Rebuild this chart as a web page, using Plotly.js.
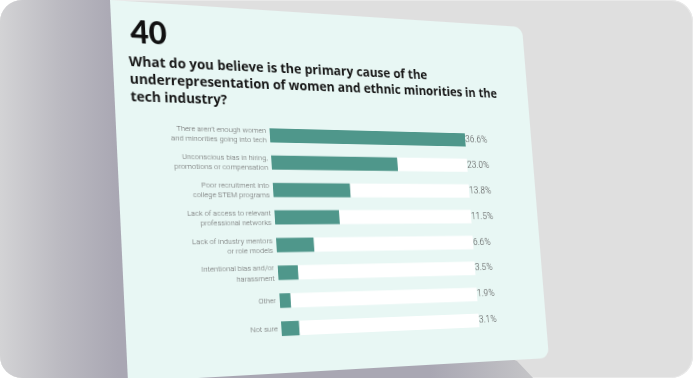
<!DOCTYPE html>
<html>
<head>
<meta charset="utf-8">
<script src="https://cdn.plot.ly/plotly-3.0.1.min.js"></script>
<style>
  html, body { margin: 0; padding: 0; background: #ffffff; width: 694px; height: 380px; overflow: hidden; }
  #frame { position: absolute; left: 0; top: 0; width: 693px; height: 378px; border-radius: 22px; overflow: hidden; background: #dfdfdf; box-shadow: inset 0 0 0 1px #e9e9e9; }
  #shade { position: absolute; left: 0; top: 0; width: 694px; height: 380px;
    background: linear-gradient(to right, #d3d3d5 0px, #bbbac1 60px, #a9a7b3 118px, #a9a7b3 430px, #c4c4c7 530px, #d6d6d6 560px);
    clip-path: polygon(0px 0px, 110px 0px, 500px 355px, 517px 361px, 535px 380px, 0px 380px); }
  #card { position: absolute; left: 0; top: 0; width: 474px; height: 382px; background: #e8f7f4; border-radius: 0 11px 11px 0; transform-origin: 0 0; }
  #chart { position: absolute; left: 0; top: 0; width: 474px; height: 382px; }
</style>
</head>
<body>
<div id="frame">
  <div id="shade"></div>
  <div id="card"><div id="chart"></div></div>
</div>
<script>
// ---- data ----
const categories = [
  "There aren’t enough women<br>and minorities going into tech",
  "Unconscious bias in hiring,<br>promotions or compensation",
  "Poor recruitment into<br>college STEM programs",
  "Lack of access to relevant<br>professional networks",
  "Lack of industry mentors<br>or role models",
  "Intentional bias and/or<br>harassment",
  "Other",
  "Not sure"
];
const values = [36.6, 23.0, 13.8, 11.5, 6.6, 3.5, 1.9, 3.1];
const valueLabels = ["36.6%", "23.0%", "13.8%", "11.5%", "6.6%", "3.5%", "1.9%", "3.1%"];
const questionNumber = "40";
const question = "What do you believe is the primary cause of the<br>underrepresentation of women and ethnic minorities in the<br>tech industry?";

// ---- layout helpers ----
const W = 474, H = 382;
const quad = [[110, 0], [522, 27], [549, 358], [128, 382]];
const maxVal = Math.max(...values);
const track = values.map(() => maxVal);

function cardMatrix(q) {
  const [x0, y0] = q[0], [x1, y1] = q[1], [x2, y2] = q[2], [x3, y3] = q[3];
  const dx1 = x1 - x2, dx2 = x3 - x2, dx3 = x0 - x1 + x2 - x3;
  const dy1 = y1 - y2, dy2 = y3 - y2, dy3 = y0 - y1 + y2 - y3;
  const den = dx1 * dy2 - dx2 * dy1;
  const g = (dx3 * dy2 - dx2 * dy3) / den;
  const h = (dx1 * dy3 - dx3 * dy1) / den;
  const a = x1 - x0 + g * x1, b = x3 - x0 + h * x3, c = x0;
  const d = y1 - y0 + g * y1, e = y3 - y0 + h * y3, f = y0;
  return `matrix3d(${a / W},${d / W},0,${g / W},${b / H},${e / H},0,${h / H},0,0,1,0,${c},${f},0,1)`;
}

const ML = 160, MR = 85, MT = 120, MB = 31;
const PW = W - ML - MR, PH = H - MT - MB;

const traces = [
  { type: 'bar', orientation: 'h', x: track, y: categories, marker: { color: '#ffffff' }, hoverinfo: 'skip' },
  { type: 'bar', orientation: 'h', x: values, y: categories, marker: { color: '#4f978b' }, hoverinfo: 'skip' },
  { type: 'scatter', mode: 'text', x: track, y: categories, text: valueLabels, textposition: 'middle right',
    textfont: { family: 'Roboto, sans-serif', size: 10.5, color: '#555555', weight: 300 }, cliponaxis: false, hoverinfo: 'skip' }
];

const layout = {
  width: W, height: H,
  margin: { l: ML, r: MR, t: MT, b: MB, pad: 0 },
  paper_bgcolor: 'rgba(0,0,0,0)', plot_bgcolor: 'rgba(0,0,0,0)',
  showlegend: false,
  barmode: 'overlay', bargap: 0.48,
  title: {
    text: question, xref: 'container', yref: 'container', x: 16 / W, xanchor: 'left', y: 1 - 67 / H, yanchor: 'top',
    font: { family: '"Open Sans", sans-serif', size: 14.0, weight: 700, color: '#161616' }
  },
  xaxis: { range: [0, maxVal], visible: false, fixedrange: true },
  yaxis: {
    autorange: 'reversed', showgrid: false, zeroline: false, showline: false, ticks: '',
    ticklabelstandoff: 3,
    tickfont: { family: 'Roboto, sans-serif', size: 7.8, color: '#6a6a6a', weight: 300 }, fixedrange: true
  },
  annotations: [{
    text: questionNumber, xref: 'paper', yref: 'paper', x: (17 - ML) / PW, y: (H - MB - 9) / PH,
    xanchor: 'left', yanchor: 'top', showarrow: false,
    font: { family: 'Lato, sans-serif', size: 32, weight: 900, color: '#111111' }
  }]
};

Plotly.newPlot('chart', traces, layout, { displayModeBar: false, staticPlot: true }).then(() => {
  document.getElementById('card').style.transform = cardMatrix(quad);
});
</script>
</body>
</html>
